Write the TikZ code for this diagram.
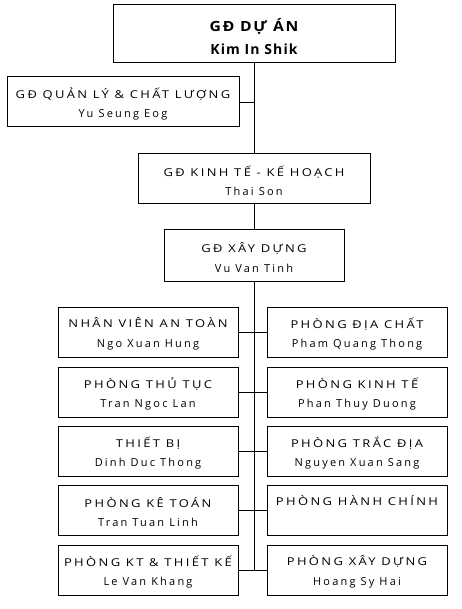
\documentclass[tikz,border=0pt]{standalone}
\usepackage{fontspec}
\setmainfont{Open Sans}[LetterSpace=20]
\newfontfamily\capsf{Open Sans}[LetterSpace=22, FakeStretch=1.2]
\newfontfamily\topcapsf{Open Sans}[LetterSpace=12, FakeStretch=1.12]
\newcommand\tl[2]{{\capsf #1}\\{\fontsize{11}{19.5}\selectfont #2}}
\begin{document}
\begin{tikzpicture}[x=1pt,y=-1pt,
  box/.style={draw, line width=1pt, inner sep=0pt},
  lbl/.style={align=center, inner sep=0pt, yshift=-2pt,
    font=\fontsize{10.8}{19.5}\selectfont},
  toplbl/.style={align=center, inner sep=0pt, yshift=-2.5pt,
    font=\fontsize{14}{23}\selectfont\bfseries\addfontfeature{LetterSpace=8}},
  wide/.style={box, minimum width=232pt, minimum height=50pt},
  col/.style={box, minimum width=180pt, minimum height=50pt},
  link/.style={line width=1pt}]
\useasboundingbox (0,0) rectangle (461,609);
\node[box, minimum width=282pt, minimum height=58pt,
  label={[toplbl]center:{\topcapsf\bfseries GĐ DỰ ÁN}\\Kim In Shik}] (top) at (254,34) {};
\node[wide, label={[lbl]center:\tl{GĐ QUẢN LÝ \& CHẤT LƯỢNG}{Yu Seung Eog}}] (ql) at (123,102) {};
\node[wide, label={[lbl]center:\tl{GĐ KINH TẾ - KẾ HOẠCH}{Thai Son}}] (kt) at (254,179) {};
\node[col, minimum height=51pt, label={[lbl]center:\tl{GĐ XÂY DỰNG}{Vu Van Tinh}}] (xd) at (254,255.5) {};
\node[col, label={[lbl]center:\tl{NHÂN VIÊN AN TOÀN}{Ngo Xuan Hung}}] (l1) at (148,332) {};
\node[col, label={[lbl]center:\tl{PHÒNG ĐỊA CHẤT}{Pham Quang Thong}}] (r1) at (357,332) {};
\node[col, label={[lbl]center:\tl{PHÒNG THỦ TỤC}{Tran Ngoc Lan}}] (l2) at (148,392) {};
\node[col, label={[lbl]center:\tl{PHÒNG KINH TẾ}{Phan Thuy Duong}}] (r2) at (357,392) {};
\node[col, label={[lbl]center:\tl{THIẾT BỊ}{Dinh Duc Thong}}] (l3) at (148,451) {};
\node[col, label={[lbl]center:\tl{PHÒNG TRẮC ĐỊA}{Nguyen Xuan Sang}}] (r3) at (357,451) {};
\node[col, label={[lbl]center:\tl{PHÒNG KÊ TOÁN}{Tran Tuan Linh}}] (l4) at (148,510) {};
\node[col, label={[lbl]center:\tl{PHÒNG HÀNH CHÍNH}{\phantom{Hg}}}] (r4) at (357,510) {};
\node[col, label={[lbl]center:\tl{PHÒNG KT \& THIẾT KẾ}{Le Van Khang}}] (l5) at (148,570) {};
\node[col, label={[lbl]center:\tl{PHÒNG XÂY DỰNG}{Hoang Sy Hai}}] (r5) at (357,570) {};
\coordinate (qlj) at (254,103);
\coordinate (bot) at (254,570);
\draw[link] (top.south) -- (kt.north);
\draw[link] (ql.east |- qlj) -- (qlj);
\draw[link] (kt.south) -- (xd.north);
\draw[link] (xd.south) -- (bot);
\foreach \i in {1,...,5} \draw[link] (l\i.east) -- (r\i.west);
\end{tikzpicture}
\end{document}
